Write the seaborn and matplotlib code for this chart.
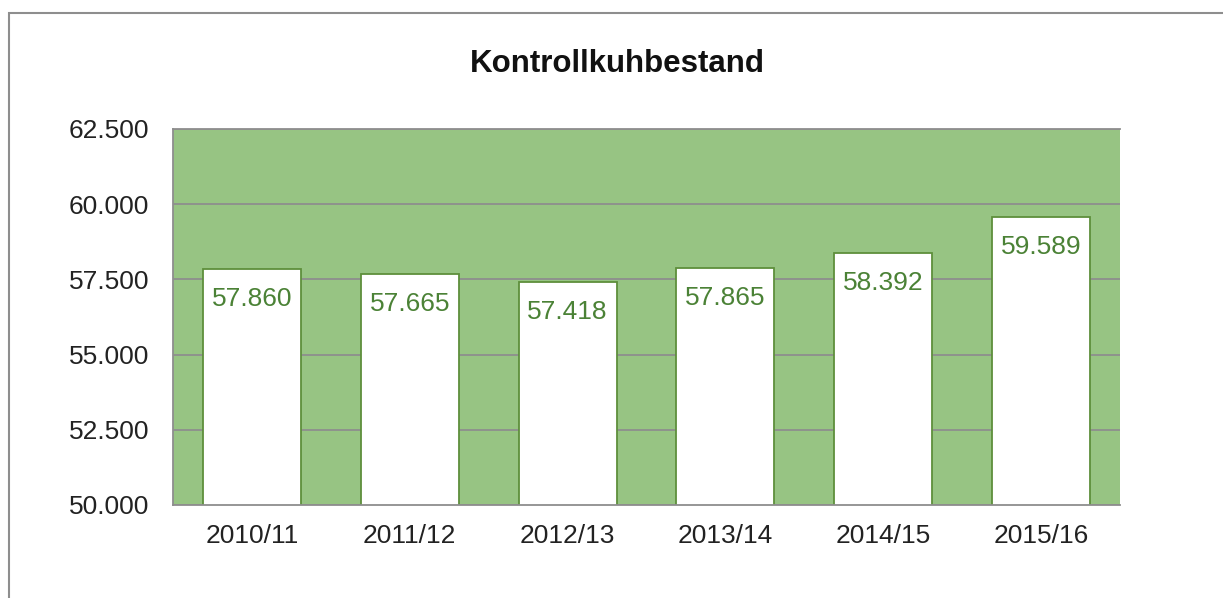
import matplotlib
matplotlib.use("Agg")
import matplotlib.pyplot as plt
import matplotlib.ticker as mticker
from matplotlib.patches import Rectangle
import seaborn as sns

seasons = ["2010/11", "2011/12", "2012/13", "2013/14", "2014/15", "2015/16"]
cows = [57860, 57665, 57418, 57865, 58392, 59589]

sns.set_style("white")
plt.rcParams["font.family"] = ["Liberation Sans", "DejaVu Sans"]

green_bg = "#97c483"
green_edge = "#5e8f3b"
green_text = "#4b8236"
grey = "#8e8e8e"

fig = plt.figure(figsize=(12.23, 5.98), dpi=100)
ax = fig.add_axes([173/1223, 1 - 505/598, (1120-173)/1223, (505-129)/598])
ax.set_facecolor(green_bg)

sns.barplot(x=seasons, y=cows, color="white", edgecolor=green_edge,
            linewidth=1.3, width=0.62, saturation=1, ax=ax, zorder=3)

ax.set_ylim(50000, 62500)
ax.set_xlim(-0.5, 5.5)
ax.yaxis.set_major_locator(mticker.MultipleLocator(2500))
ax.yaxis.set_major_formatter(mticker.FuncFormatter(lambda v, p: f"{v:,.0f}".replace(",", ".")))
ax.grid(axis="y", color=grey, lw=1.3, zorder=0)
ax.set_axisbelow(True)

ax.spines["right"].set_visible(False)
for s in ["left", "bottom", "top"]:
    ax.spines[s].set_color(grey)
    ax.spines[s].set_linewidth(1.3)
    ax.spines[s].set_zorder(4)

ax.set_xticks(range(len(seasons)))
ax.set_xticklabels(seasons)
ax.set_xticks([i - 0.5 for i in range(len(seasons) + 1)], minor=True)
ax.tick_params(axis="x", which="major", length=0, pad=14, labelsize=19, colors="#222222")
ax.tick_params(axis="x", which="minor", length=6, width=1.3, color=grey, direction="out")
ax.tick_params(axis="y", length=6, width=1.3, color=grey, direction="out", labelsize=19,
               labelcolor="#222222", pad=11)
ax.set_xlabel("")
ax.set_ylabel("")

for i, v in enumerate(cows):
    ax.annotate(f"{v:,.0f}".replace(",", "."), (i, v), xytext=(0, -13),
                textcoords="offset points", ha="center", va="top",
                fontsize=19, color=green_text, zorder=5)

fig.text(617/1223, 1 - 64/598, "Kontrollkuhbestand", ha="center", va="center",
         fontsize=22.5, fontweight="bold", color="#111111")

fig.patches.append(Rectangle((9/1223, -0.1), 1.2, 1 - 13/598 + 0.1,
                             transform=fig.transFigure, fill=False,
                             edgecolor=grey, lw=1.5))

fig.savefig("out.png", dpi=100)
